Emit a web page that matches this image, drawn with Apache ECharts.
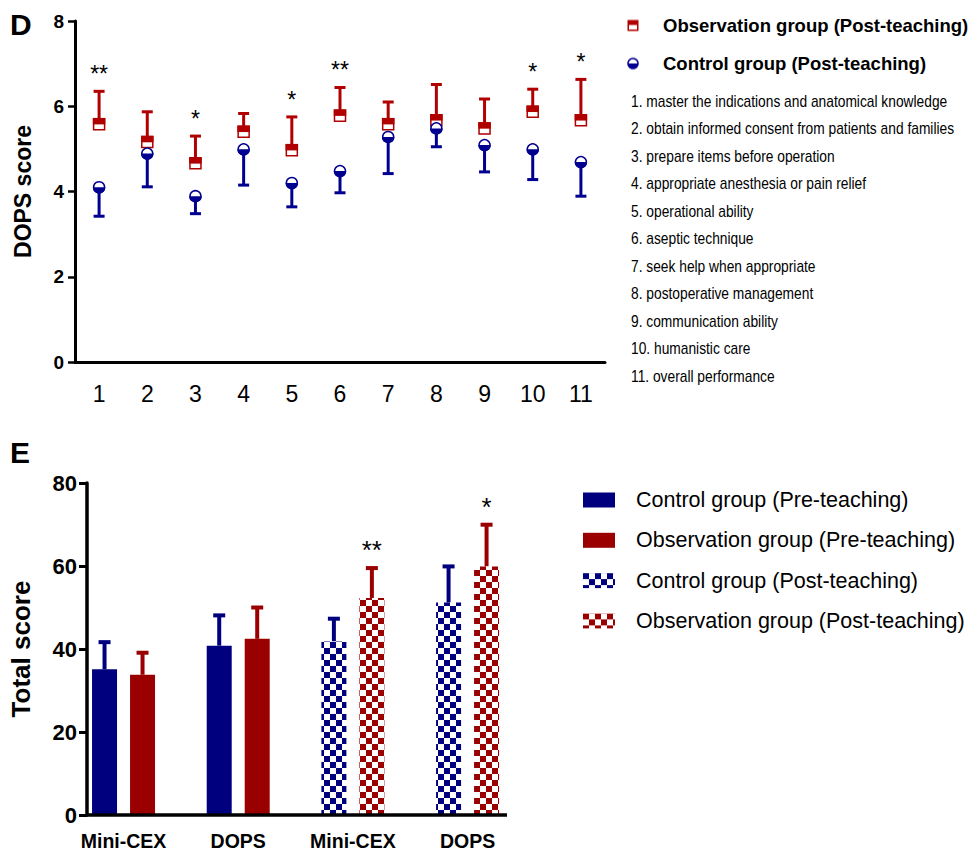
<!DOCTYPE html>
<html><head><meta charset="utf-8">
<script src="https://cdn.jsdelivr.net/npm/echarts@6/dist/echarts.min.js"></script>
<style>html,body{margin:0;padding:0;background:#fff}#c{width:974px;height:854px}</style>
</head><body><div id="c"></div>
<script>
// ---------- Panel D data ----------
const dopsItems = ['1','2','3','4','5','6','7','8','9','10','11'];
const dopsItemLabels = [
  '1. master the indications and anatomical knowledge',
  '2. obtain informed consent from patients and families',
  '3. prepare items before operation',
  '4. appropriate anesthesia or pain relief',
  '5. operational ability',
  '6. aseptic technique',
  '7. seek help when appropriate',
  '8. postoperative management',
  '9. communication ability',
  '10. humanistic care',
  '11. overall performance'
];
const obsPostMean = [5.58, 5.16, 4.66, 5.40, 4.97, 5.78, 5.58, 5.67, 5.48, 5.87, 5.67];
const obsPostSD   = [0.77, 0.71, 0.64, 0.43, 0.78, 0.66, 0.52, 0.84, 0.69, 0.53, 0.96];
const ctrlPostMean = [4.10, 4.89, 3.89, 4.99, 4.20, 4.48, 5.28, 5.48, 5.09, 4.99, 4.69];
const ctrlPostSD   = [0.68, 0.78, 0.41, 0.84, 0.56, 0.51, 0.86, 0.43, 0.63, 0.71, 0.80];
const dopsSig = ['**', '', '*', '', '*', '**', '', '', '', '*', '*'];
const dopsTicks = [0, 2, 4, 6, 8];

// ---------- Panel E data ----------
const scoreCats = ['Mini-CEX', 'DOPS', 'Mini-CEX', 'DOPS'];
const ctrlPreTotal = [35.1, 40.8];
const ctrlPreSD    = [6.55, 7.3];
const obsPreTotal  = [33.8, 42.45];
const obsPreSD     = [5.3, 7.55];
const ctrlPostTotal = [41.8, 51.2];
const ctrlPostTotSD = [5.5, 8.7];
const obsPostTotal  = [52.3, 59.9];
const obsPostTotSD  = [7.2, 10.05];
const totalSig = ['', '', '**', '*'];
const totalTicks = [0, 20, 40, 60, 80];

const NAME_OBS_POST = 'Observation group (Post-teaching)';
const NAME_CTRL_POST = 'Control group (Post-teaching)';
const NAME_CTRL_PRE = 'Control group (Pre-teaching)';
const NAME_OBS_PRE = 'Observation group (Pre-teaching)';

// ---------- styles ----------
const RED_D = '#b00000', BLUE_D = '#000090';
const RED_E = '#9b0000', BLUE_E = '#00007f';
const SANS = "'Liberation Sans', Arial, sans-serif";
const BAR_W = 25, BAR_GAP = 0.52;
const BAR_OFF = BAR_W * (1 + BAR_GAP) / 2;

function checker(color) {
  const c = document.createElement('canvas');
  c.width = 12; c.height = 12;
  const g = c.getContext('2d');
  g.fillStyle = '#fff'; g.fillRect(0, 0, 12, 12);
  g.fillStyle = color; g.fillRect(0, 0, 6, 6); g.fillRect(6, 6, 6, 6);
  return { image: c.toDataURL(), repeat: 'repeat' };
}
function iconSquare(color) {
  const c = document.createElement('canvas'); c.width = 24; c.height = 24;
  const g = c.getContext('2d');
  g.fillStyle = '#fff'; g.fillRect(2, 2, 20, 20);
  g.strokeStyle = color; g.lineWidth = 3; g.strokeRect(2.5, 2.5, 19, 19);
  g.fillStyle = color; g.fillRect(1, 1, 22, 10);
  return 'image://' + c.toDataURL();
}
function iconCircle(color) {
  const c = document.createElement('canvas'); c.width = 24; c.height = 24;
  const g = c.getContext('2d');
  g.beginPath(); g.arc(12, 12, 10, 0, Math.PI * 2); g.fillStyle = '#fff'; g.fill();
  g.lineWidth = 3; g.strokeStyle = color; g.stroke();
  g.beginPath(); g.moveTo(1, 12); g.arc(12, 12, 11, Math.PI, 0, true); g.closePath(); g.fillStyle = color; g.fill();
  return 'image://' + c.toDataURL();
}

function dotRender(kind) {
  return function (params, api) {
    const i = api.value(0), m = api.value(1), s = api.value(2);
    const up = kind === 'obs';
    const col = up ? RED_D : BLUE_D;
    const c = api.coord([i, m]);
    const e = api.coord([i, up ? m + s : m - s]);
    const ch = [
      { type: 'line', shape: { x1: c[0], y1: c[1], x2: e[0], y2: e[1] }, style: { stroke: col, lineWidth: 3 } },
      { type: 'line', shape: { x1: e[0] - 5.5, y1: e[1], x2: e[0] + 5.5, y2: e[1] }, style: { stroke: col, lineWidth: 3 } }
    ];
    if (up) {
      ch.push({ type: 'rect', shape: { x: c[0] - 5.5, y: c[1] - 5.5, width: 11, height: 11 }, style: { fill: '#fff', stroke: col, lineWidth: 1.5 } });
      ch.push({ type: 'rect', shape: { x: c[0] - 6.25, y: c[1] - 6.25, width: 12.5, height: 6.5 }, style: { fill: col } });
      const sig = dopsSig[params.dataIndex];
      if (sig) ch.push({ type: 'text', style: { text: sig, x: e[0], y: e[1] - 17, align: 'center', verticalAlign: 'middle', fontSize: 23, fontFamily: SANS, fill: '#000' } });
    } else {
      ch.push({ type: 'circle', shape: { cx: c[0], cy: c[1], r: 5.5 }, style: { fill: '#fff', stroke: col, lineWidth: 1.5 } });
      ch.push({ type: 'sector', shape: { cx: c[0], cy: c[1], r: 6.25, r0: 0, startAngle: 0, endAngle: Math.PI, clockwise: true }, style: { fill: col } });
    }
    return { type: 'group', children: ch };
  };
}

function errRender(off, col, sigs) {
  return function (params, api) {
    const i = api.value(0), m = api.value(1), s = api.value(2);
    const b = api.coord([i, m]), t = api.coord([i, m + s]);
    const x = b[0] + off;
    const ch = [
      { type: 'line', shape: { x1: x, y1: b[1], x2: x, y2: t[1] }, style: { stroke: col, lineWidth: 4 } },
      { type: 'line', shape: { x1: x - 6, y1: t[1], x2: x + 6, y2: t[1] }, style: { stroke: col, lineWidth: 4 } }
    ];
    const sig = sigs ? sigs[i] : '';
    if (sig) ch.push({ type: 'text', style: { text: sig, x: x, y: t[1] - 18, align: 'center', verticalAlign: 'middle', fontSize: 26, fontFamily: SANS, fill: '#000' } });
    return { type: 'group', children: ch };
  };
}

const dash2 = (a) => a.concat(['-', '-']);
const dashPre = (a) => ['-', '-'].concat(a);

const chart = echarts.init(document.getElementById('c'), null, { renderer: 'svg' });

const option = {
  animation: false,
  backgroundColor: '#fff',
  grid: [
    { left: 75, top: 21, width: 530, height: 341, outerBoundsMode: 'none' },
    { left: 66.2, top: 483, width: 458.7, height: 332, outerBoundsMode: 'none' }
  ],
  xAxis: [
    {
      type: 'category', gridIndex: 0, data: dopsItems, boundaryGap: true,
      axisLine: { lineStyle: { color: '#000', width: 3 } },
      axisTick: { alignWithLabel: true, length: 7, lineStyle: { color: '#000', width: 2.5 } },
      axisLabel: { color: '#000', fontSize: 23, fontFamily: SANS, margin: 20, interval: 0 },
      splitLine: { show: false }
    },
    {
      type: 'category', gridIndex: 1, data: scoreCats, boundaryGap: true,
      axisLine: { show: false },
      axisTick: { show: false },
      axisLabel: { color: '#000', fontSize: 19.5, fontWeight: 'bold', fontFamily: SANS, margin: 16, interval: 0 },
      splitLine: { show: false }
    }
  ],
  yAxis: [
    {
      type: 'value', gridIndex: 0, min: dopsTicks[0], max: dopsTicks[dopsTicks.length - 1], interval: 2,
      name: 'DOPS score', nameLocation: 'middle', nameRotate: 90, nameGap: 41,
      nameTextStyle: { color: '#000', fontSize: 23, fontWeight: 'bold', fontFamily: SANS },
      axisLine: { show: true, lineStyle: { color: '#000', width: 3 } },
      axisTick: { show: true, length: 7, lineStyle: { color: '#000', width: 2.5 } },
      axisLabel: { color: '#000', fontSize: 19, fontWeight: 'bold', fontFamily: SANS, margin: 11 },
      splitLine: { show: false }
    },
    {
      type: 'value', gridIndex: 1, min: totalTicks[0], max: totalTicks[totalTicks.length - 1], interval: 20,
      offset: -20.8,
      name: 'Total score', nameLocation: 'middle', nameRotate: 90, nameGap: 53,
      nameTextStyle: { color: '#000', fontSize: 26, fontWeight: 'bold', fontFamily: SANS },
      axisLine: { show: true, lineStyle: { color: '#000', width: 3.5 } },
      axisTick: { show: true, length: 8, lineStyle: { color: '#000', width: 3 } },
      axisLabel: { color: '#000', fontSize: 22, fontWeight: 'bold', fontFamily: SANS, margin: 10 },
      splitLine: { show: false }
    }
  ],
  legend: [
    {
      left: 627, top: 16, padding: 0, orient: 'vertical', selectedMode: false,
      itemWidth: 12, itemHeight: 12, itemGap: 19,
      textStyle: { color: '#000', fontSize: 18.5, fontWeight: 'bold', fontFamily: SANS, lineHeight: 18, padding: [0, 0, 0, 19] },
      data: [
        { name: NAME_OBS_POST, icon: iconSquare(RED_D) },
        { name: NAME_CTRL_POST, icon: iconCircle(BLUE_D) }
      ]
    },
    {
      left: 583, top: 487, padding: 0, orient: 'vertical', selectedMode: false,
      itemWidth: 32, itemHeight: 15, itemGap: 14.3, icon: 'rect',
      textStyle: { color: '#000', fontSize: 21.5, fontFamily: SANS, lineHeight: 26, padding: [0, 0, 0, 16] },
      data: [NAME_CTRL_PRE, NAME_OBS_PRE, NAME_CTRL_POST, NAME_OBS_POST]
    }
  ],
  series: [
    // Panel E bars (first so legend picks their styles)
    { type: 'bar', name: NAME_CTRL_PRE, xAxisIndex: 1, yAxisIndex: 1, stack: 'ctrl', barWidth: BAR_W, barGap: (BAR_GAP * 100) + '%',
      itemStyle: { color: BLUE_E }, data: dash2(ctrlPreTotal) },
    { type: 'bar', name: NAME_OBS_PRE, xAxisIndex: 1, yAxisIndex: 1, stack: 'obs', barWidth: BAR_W, barGap: (BAR_GAP * 100) + '%',
      itemStyle: { color: RED_E }, data: dash2(obsPreTotal) },
    { type: 'bar', name: NAME_CTRL_POST, xAxisIndex: 1, yAxisIndex: 1, stack: 'ctrl', barWidth: BAR_W, barGap: (BAR_GAP * 100) + '%',
      itemStyle: { color: checker(BLUE_E) }, data: dashPre(ctrlPostTotal) },
    { type: 'bar', name: NAME_OBS_POST, xAxisIndex: 1, yAxisIndex: 1, stack: 'obs', barWidth: BAR_W, barGap: (BAR_GAP * 100) + '%',
      itemStyle: { color: checker(RED_E) }, data: dashPre(obsPostTotal) },
    { type: 'custom', name: 'ctrlErr', xAxisIndex: 1, yAxisIndex: 1, renderItem: errRender(-BAR_OFF, BLUE_E, null),
      encode: { x: 0, y: 1 }, silent: true,
      data: ctrlPreTotal.concat(ctrlPostTotal).map((v, i) => [i, v, ctrlPreSD.concat(ctrlPostTotSD)[i]]) },
    { type: 'custom', name: 'obsErr', xAxisIndex: 1, yAxisIndex: 1, renderItem: errRender(BAR_OFF, RED_E, totalSig),
      encode: { x: 0, y: 1 }, silent: true,
      data: obsPreTotal.concat(obsPostTotal).map((v, i) => [i, v, obsPreSD.concat(obsPostTotSD)[i]]) },
    // Panel D
    { type: 'custom', name: NAME_OBS_POST, xAxisIndex: 0, yAxisIndex: 0, renderItem: dotRender('obs'),
      encode: { x: 0, y: 1 }, silent: true,
      data: obsPostMean.map((v, i) => [i, v, obsPostSD[i]]) },
    { type: 'custom', name: NAME_CTRL_POST, xAxisIndex: 0, yAxisIndex: 0, renderItem: dotRender('ctrl'),
      encode: { x: 0, y: 1 }, silent: true,
      data: ctrlPostMean.map((v, i) => [i, v, ctrlPostSD[i]]) }
  ],
  graphic: [
    { type: 'text', left: 10, top: 9, style: { text: 'D', fontSize: 30, fontWeight: 'bold', fontFamily: SANS, fill: '#000' } },
    { type: 'text', left: 10, top: 437, style: { text: 'E', fontSize: 30, fontWeight: 'bold', fontFamily: SANS, fill: '#000' } },
    // Panel E x-axis line (spans from the y-axis to the plot end)
    { type: 'line', shape: { x1: 87, y1: 815, x2: 507, y2: 815 }, style: { stroke: '#000', lineWidth: 3.5 }, z: 10 },
    {
      type: 'group', left: 631, top: 92,
      children: dopsItemLabels.map((t, i) => ({
        type: 'text', x: 0, y: i * 27.5, scaleX: 0.82,
        style: { text: t, fontSize: 16.8, fontFamily: SANS, fill: '#000' }
      }))
    }
  ]
};
chart.setOption(option);
</script>
</body></html>
